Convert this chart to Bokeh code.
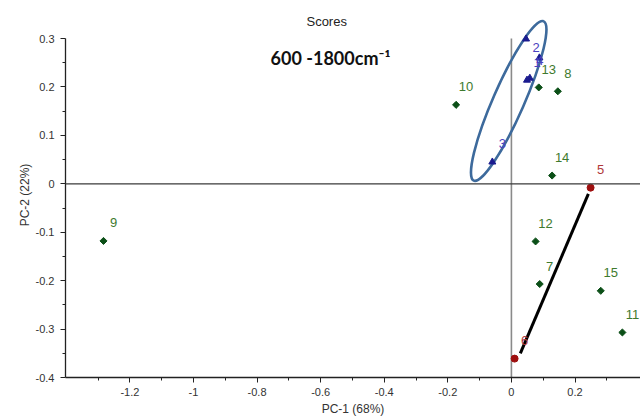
from bokeh.plotting import figure
from bokeh.models import Span, Label, FixedTicker, NumeralTickFormatter, ColumnDataSource, Range1d
from bokeh.core.properties import value
from bokeh.embed import file_html
from bokeh.resources import INLINE
import math

# ---- data (PCA scores) ----
blue_names = ["2", "", "4", "1", "3"]
blue_x = [0.046, 0.088, 0.058, 0.049, -0.060]
blue_y = [0.299, 0.260, 0.218, 0.214, 0.045]

green_names = ["10", "13", "8", "14", "12", "7", "15", "11", "9"]
green_x = [-0.174, 0.086, 0.146, 0.128, 0.076, 0.089, 0.281, 0.349, -1.283]
green_y = [0.163, 0.199, 0.191, 0.017, -0.119, -0.207, -0.221, -0.307, -0.118]

red_names = ["5", "6"]
red_x = [0.249, 0.010]
red_y = [-0.008, -0.361]

trend_x = [0.028, 0.242]
trend_y = [-0.350, -0.021]

ellipse_center = (-0.0085, 0.171)

x_ticks = [-1.2, -1.0, -0.8, -0.6, -0.4, -0.2, 0.0, 0.2]
x_minor = [-1.3, -1.1, -0.9, -0.7, -0.5, -0.3, -0.1, 0.1, 0.3]
y_ticks = [-0.4, -0.3, -0.2, -0.1, 0.0, 0.1, 0.2, 0.3]
y_minor = [-0.35, -0.25, -0.15, -0.05, 0.05, 0.15, 0.25]

# ---- figure ----
p = figure(width=640, height=418, output_backend="svg", toolbar_location=None,
           x_range=Range1d(-1.4025, 0.406), y_range=Range1d(-0.4, 0.3537),
           min_border_left=65, min_border_right=0, min_border_top=12, min_border_bottom=41)
p.background_fill_color = "white"
p.border_fill_color = "white"
p.outline_line_color = None
p.grid.visible = False

for ax in (p.xaxis[0], p.yaxis[0]):
    ax.axis_line_color = "#222222"
    ax.axis_line_width = 1.3
    ax.major_tick_line_color = "#222222"
    ax.minor_tick_line_color = "#222222"
    ax.major_tick_in = 0
    ax.major_tick_out = 5
    ax.minor_tick_in = 0
    ax.minor_tick_out = 3
    ax.major_label_text_font = "Liberation Sans"
    ax.major_label_text_font_size = "11px"
    ax.major_label_text_color = "#333333"
    ax.axis_label_text_font = "Liberation Sans"
    ax.axis_label_text_font_size = "12px"
    ax.axis_label_text_font_style = "normal"
    ax.axis_label_text_color = "#333333"
    ax.formatter = NumeralTickFormatter(format="0.[0]")

p.xaxis[0].ticker = FixedTicker(ticks=x_ticks, minor_ticks=x_minor)
p.yaxis[0].ticker = FixedTicker(ticks=y_ticks, minor_ticks=y_minor)
p.yaxis[0].bounds = (y_ticks[0], y_ticks[-1])
p.xaxis[0].axis_label = "PC-1 (68%)"
p.yaxis[0].axis_label = "PC-2 (22%)"
p.xaxis[0].major_label_standoff = 5
p.yaxis[0].major_label_standoff = 6
p.xaxis[0].axis_label_standoff = 3
p.yaxis[0].axis_label_standoff = 1

# title texts
p.add_layout(Label(x=-0.581, y=0.3345, text="Scores", text_align="center",
                   text_baseline="middle", text_font="Liberation Sans", text_font_size="13px",
                   text_color="#222222"))
p.add_layout(Label(x=-0.569, y=0.259, text="600 -1800cm\u207b\u00b9", text_align="center",
                   text_baseline="middle", text_font="Lato", text_font_size="18px",
                   text_font_style="bold", text_color="#111111"))

# zero lines
p.add_layout(Span(location=0, dimension="width", line_color="#3a3a3a", line_width=1.3))
p.line([0, 0], [y_ticks[0], y_ticks[-1]], line_color="#8a8a8a", line_width=1.6)

# ellipse around group 1-4
p.ellipse(x=[ellipse_center[0]], y=[ellipse_center[1]], width=174, height=31,
          angle=math.radians(66.3), width_units="screen", height_units="screen",
          fill_color=None, line_color="#3D6A9C", line_width=2.6)

# trend line
p.line(trend_x, trend_y, line_color="black", line_width=3)

label_font = value("Liberation Sans")

src_g = ColumnDataSource(dict(x=green_x, y=green_y, t=green_names))
p.scatter("x", "y", source=src_g, marker="square", angle=math.pi / 4, size=5,
          fill_color="#0B4F17", line_color="#0B4F17")
p.text("x", "y", text="t", source=src_g, x_offset=10, y_offset=-18, text_align="center",
       text_baseline="middle", text_font=label_font, text_font_size="13px", text_color="#3E7A2E")

blue_dy = [9 if n == "2" else -18 for n in blue_names]
src_b = ColumnDataSource(dict(x=blue_x, y=blue_y, t=blue_names, dy=blue_dy))
p.scatter("x", "y", source=src_b, marker="triangle", size=7, fill_color="#1B1B8F", line_color="#1B1B8F")
p.text("x", "y", text="t", source=src_b, x_offset=10, y_offset="dy", text_align="center",
       text_baseline="middle", text_font=label_font, text_font_size="13px", text_color="#4B42C0")

src_r = ColumnDataSource(dict(x=red_x, y=red_y, t=red_names))
p.scatter("x", "y", source=src_r, marker="circle", size=7, fill_color="#9E0F0F", line_color="#9E0F0F")
p.text("x", "y", text="t", source=src_r, x_offset=10, y_offset=-18, text_align="center",
       text_baseline="middle", text_font=label_font, text_font_size="13px", text_color="#B0383A")

open("out.html", "w").write(file_html(p, INLINE))
